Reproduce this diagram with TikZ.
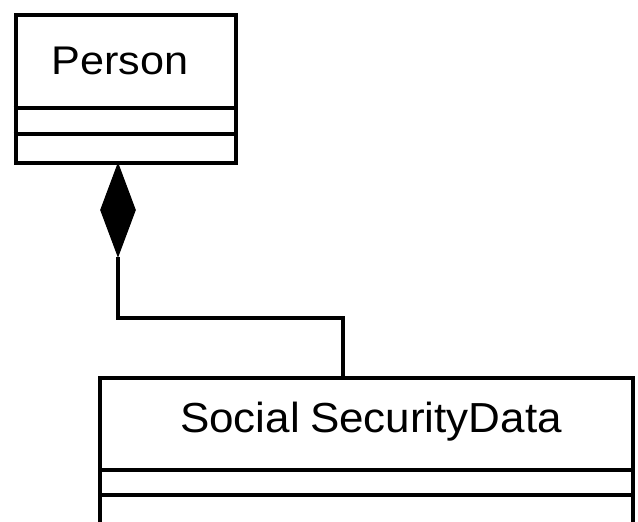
\documentclass[tikz,border=0pt]{standalone}
\usepackage{fontspec}
\setmainfont{Liberation Sans}
\usetikzlibrary{shapes.geometric}

\begin{document}
\begin{tikzpicture}[x=1pt, y=-1pt, line width=4pt,
				   classbox/.style={draw=black, rectangle, inner sep=0pt},
				   classname/.style={inner sep=0pt, xscale=1.08, transform shape, font=\fontsize{40}{40}\selectfont},
				   composite/.style={diamond, draw=black, fill=black, inner sep=0pt, line width=1pt,
				                     minimum width=35pt, minimum height=93pt}]
\clip (0,0) rectangle (638,522);
\fill[white] (0,0) rectangle (638,522);

% Person class
\node[classbox, minimum width=220pt, minimum height=148pt] (person) at (125.5,88.5) {};
\node[classname] (pname) at (120,61) {Person};
\draw (person.west |- 0,108) -- (person.east |- 0,108);
\draw (person.west |- 0,134) -- (person.east |- 0,134);

% SocialSecurityData class, cut off at the page edge
\node[classbox, minimum width=533pt, minimum height=180pt] (ssd) at (366.5,468) {};
\node[classname, xscale=0.97, font=\fontsize{42}{42}\selectfont] (sname) at (371,422) {Social\kern-2pt\ SecurityData};
\draw (ssd.west |- 0,470) -- (ssd.east |- 0,470);
\draw (ssd.west |- 0,495) -- (ssd.east |- 0,495);

% composition
\node[composite, anchor=north] (dia) at (118,163) {};
\coordinate (elbow) at (343,318);
\draw (dia.south) |- (elbow) -- (elbow |- ssd.north);
\end{tikzpicture}
\end{document}
